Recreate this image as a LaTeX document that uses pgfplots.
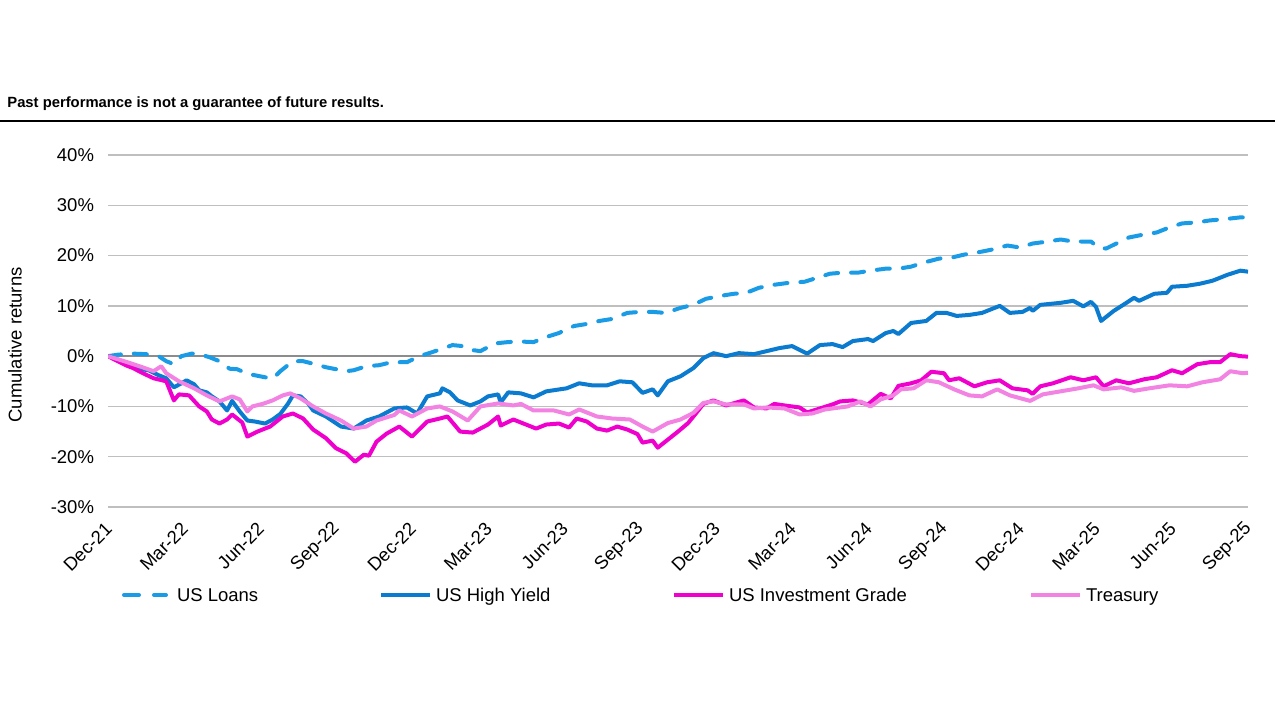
\documentclass[border=0pt]{standalone}
\usepackage{fontspec}
\setmainfont{Liberation Sans}
\usepackage{pgfplots}
\pgfplotsset{compat=1.18}
\usepackage{pgfplotstable}

\definecolor{loans}{HTML}{1A9BE6}
\definecolor{hy}{HTML}{0B7BCF}
\definecolor{ig}{HTML}{F000CC}
\definecolor{tsy}{HTML}{F383E2}

\pgfplotsset{
  solidkey/.style={legend image code/.code={\draw[##1] (0bp,0bp) -- (24.5bp,0bp);}},
  dashkey/.style={legend image code/.code={\draw[##1, dash pattern=on 7.5bp off 7.5bp] (1bp,0bp) -- (22bp,0bp); \path (24.5bp,0bp);}},
}

% cumulative returns (%), x = months since Dec-21
\pgfplotstableread{
m r
0 0
0.4 0.3
1.0 0.5
1.5 0.4
2.0 0.0
2.3 -1.0
2.6 -1.6
2.9 0.0
3.3 0.5
3.6 0.4
4.0 -0.2
4.4 -1.0
4.8 -2.5
5.1 -2.6
5.5 -3.5
6.0 -4.0
6.5 -4.5
6.8 -3.0
7.3 -1.0
7.7 -1.0
8.1 -1.5
8.6 -2.2
9.0 -2.6
9.4 -3.0
9.7 -2.8
10.2 -2.0
10.7 -1.8
11.2 -1.2
11.8 -1.2
12.3 0.0
12.8 0.8
13.2 1.5
13.6 2.2
14.0 2.0
14.4 1.2
14.7 1.0
15.0 1.8
15.4 2.6
15.8 2.8
16.3 2.9
16.8 2.8
17.3 3.8
17.8 4.6
18.4 6.0
18.9 6.4
19.4 7.0
19.9 7.4
20.5 8.6
21.0 8.8
21.5 8.8
22.0 8.6
22.6 9.6
23.1 10.2
23.6 11.4
24.2 12.0
24.7 12.4
25.2 12.6
25.7 13.6
26.3 14.2
26.9 14.6
27.5 14.8
28.0 15.6
28.5 16.4
29.0 16.6
29.6 16.6
30.1 17.0
30.7 17.4
31.2 17.4
31.7 17.8
32.2 18.6
32.8 19.4
33.3 19.6
33.8 20.2
34.3 20.6
34.9 21.2
35.5 22.0
36.0 21.6
36.5 22.4
37.1 22.8
37.6 23.2
38.1 22.8
38.8 22.8
39.1 21.6
39.4 21.4
39.8 22.4
40.3 23.6
40.9 24.2
41.4 24.6
41.9 25.6
42.4 26.4
43.0 26.6
43.5 27.0
44.0 27.2
44.7 27.6
45.0 27.6
}\loans

\pgfplotstableread{
m r
0 0
0.3 -0.5
0.7 -1.5
1.0 -1.8
1.3 -2.6
1.6 -2.8
2.0 -3.8
2.3 -4.4
2.6 -6.2
2.9 -5.4
3.1 -4.8
3.4 -5.6
3.6 -6.8
3.9 -7.2
4.1 -8.0
4.4 -9.0
4.7 -10.8
4.9 -8.9
5.2 -11.0
5.5 -12.8
5.8 -13.0
6.2 -13.4
6.5 -12.6
6.8 -11.5
7.1 -9.5
7.3 -7.8
7.6 -8.0
7.9 -9.4
8.1 -10.8
8.6 -12.0
9.2 -14.0
9.7 -14.4
10.2 -12.8
10.7 -12.0
11.0 -11.2
11.3 -10.4
11.8 -10.2
12.2 -11.4
12.6 -8.0
13.1 -7.4
13.2 -6.4
13.5 -7.2
13.8 -8.8
14.3 -9.8
14.7 -9.0
15.0 -8.0
15.4 -7.6
15.5 -9.2
15.8 -7.2
16.3 -7.4
16.8 -8.2
17.3 -7.0
18.1 -6.4
18.6 -5.4
19.1 -5.8
19.7 -5.8
20.2 -5.0
20.7 -5.2
21.1 -7.3
21.5 -6.6
21.7 -7.8
22.1 -5.0
22.6 -4.0
23.1 -2.4
23.5 -0.4
23.9 0.6
24.4 0.0
24.9 0.6
25.5 0.4
26.0 1.0
26.5 1.6
27.0 2.0
27.6 0.5
28.1 2.2
28.6 2.4
29.0 1.8
29.4 3.0
30.0 3.4
30.2 3.0
30.7 4.6
31.0 5.0
31.2 4.4
31.7 6.6
32.3 7.0
32.7 8.6
33.1 8.6
33.5 8.0
34.0 8.2
34.5 8.6
35.2 10.0
35.6 8.6
36.1 8.8
36.4 9.6
36.5 9.0
36.8 10.2
37.6 10.6
38.1 11.0
38.5 9.9
38.8 10.8
39.0 9.8
39.2 7.0
39.7 9.0
40.2 10.6
40.5 11.6
40.7 11.0
41.3 12.4
41.8 12.6
42.0 13.8
42.6 14.0
43.1 14.4
43.6 15.0
44.2 16.2
44.7 17.0
45.0 16.8
}\highyield

\pgfplotstableread{
m r
0 0
0.3 -0.8
0.7 -1.8
1.0 -2.4
1.3 -3.2
1.8 -4.4
2.3 -5.0
2.6 -8.8
2.8 -7.6
3.2 -7.8
3.6 -10.0
3.9 -11.0
4.1 -12.6
4.4 -13.4
4.7 -12.6
4.9 -11.6
5.3 -13.2
5.5 -16.0
5.9 -15.0
6.4 -14.0
6.9 -12.0
7.3 -11.4
7.7 -12.4
8.1 -14.6
8.6 -16.3
9.0 -18.3
9.4 -19.3
9.75 -21.0
10.1 -19.6
10.3 -19.8
10.6 -17.0
11.0 -15.4
11.5 -14.0
12.0 -16.0
12.6 -13.0
13.1 -12.4
13.4 -12.0
13.9 -15.0
14.4 -15.2
15.0 -13.6
15.4 -12.0
15.5 -13.8
16.0 -12.6
16.4 -13.4
16.9 -14.4
17.3 -13.6
17.8 -13.4
18.2 -14.2
18.5 -12.4
18.9 -13.0
19.3 -14.4
19.7 -14.8
20.1 -14.0
20.5 -14.6
20.9 -15.5
21.1 -17.2
21.5 -16.8
21.7 -18.2
22.1 -16.6
22.5 -15.0
22.9 -13.3
23.3 -10.8
23.5 -9.5
23.9 -8.8
24.4 -9.8
25.1 -8.8
25.5 -10.2
26.0 -10.4
26.3 -9.5
26.7 -9.8
27.3 -10.2
27.6 -11.2
28.1 -10.4
28.6 -9.6
28.9 -9.0
29.4 -8.8
30.0 -9.6
30.5 -7.5
30.9 -8.4
31.2 -5.9
31.7 -5.4
32.1 -4.8
32.5 -3.1
33.0 -3.4
33.2 -4.8
33.6 -4.4
34.2 -6.0
34.7 -5.2
35.2 -4.8
35.7 -6.4
36.3 -6.8
36.5 -7.5
36.8 -6.0
37.3 -5.4
38.0 -4.2
38.5 -4.8
39.0 -4.2
39.3 -6.0
39.8 -4.8
40.3 -5.4
40.9 -4.6
41.4 -4.2
42.0 -2.8
42.4 -3.4
43.0 -1.6
43.5 -1.2
43.9 -1.2
44.3 0.4
44.7 0.0
45.0 -0.1
}\invgrade

\pgfplotstableread{
m r
0 0
0.7 -1.1
1.3 -2.1
1.8 -3.0
2.1 -2.0
2.3 -3.4
2.8 -5.0
3.4 -6.4
3.9 -7.8
4.4 -9.0
4.9 -8.0
5.2 -8.6
5.5 -11.0
5.7 -10.0
6.1 -9.5
6.5 -8.8
6.9 -7.8
7.2 -7.4
7.6 -8.4
8.1 -10.0
8.6 -11.4
9.2 -12.8
9.7 -14.4
10.2 -14.0
10.6 -12.8
11.3 -11.7
11.5 -10.8
12.0 -12.0
12.6 -10.4
13.1 -10.0
13.6 -11.0
14.2 -12.8
14.7 -10.0
15.4 -9.4
16.0 -9.8
16.3 -9.5
16.8 -10.8
17.6 -10.8
18.2 -11.6
18.6 -10.6
19.3 -12.0
19.9 -12.4
20.6 -12.6
21.1 -14.0
21.5 -15.0
22.1 -13.3
22.6 -12.6
23.1 -11.3
23.5 -9.3
23.9 -9.0
24.4 -9.6
25.1 -9.6
25.5 -10.4
26.0 -10.2
26.7 -10.4
27.3 -11.6
27.8 -11.4
28.3 -10.6
29.2 -10.0
29.7 -9.0
30.1 -10.0
30.5 -8.6
31.0 -7.8
31.3 -6.6
31.8 -6.4
32.3 -4.8
32.8 -5.2
33.4 -6.6
34.0 -7.8
34.5 -8.0
35.1 -6.6
35.6 -7.8
36.4 -8.9
36.9 -7.6
37.6 -7.0
38.3 -6.4
38.9 -5.8
39.3 -6.6
40.0 -6.2
40.5 -6.9
41.1 -6.4
41.9 -5.8
42.6 -6.0
43.2 -5.2
43.9 -4.6
44.3 -3.0
44.8 -3.4
45.0 -3.3
}\treasury

\begin{document}
\begin{tikzpicture}
\useasboundingbox (0,0) rectangle (640bp,-360bp);

\node[anchor=base west, inner sep=0pt, font=\bfseries\fontsize{7.4bp}{9bp}\selectfont]
  at (3.5bp,-53.5bp) {Past performance is not a guarantee of future results.};
\draw[line width=0.7bp] (0,-60.5bp) -- (637.5bp,-60.5bp);

\begin{axis}[
  at={(54bp,-253.5bp)}, anchor=south west,
  scale only axis, width=570bp, height=176bp,
  xmin=0, xmax=45, ymin=-30, ymax=40,
  font=\fontsize{9.25bp}{11bp}\selectfont,
  axis line style={draw=none},
  major tick style={draw=none},
  xtick={0,3,...,45},
  xticklabels={Dec-21,Mar-22,Jun-22,Sep-22,Dec-22,Mar-23,Jun-23,Sep-23,Dec-23,Mar-24,Jun-24,Sep-24,Dec-24,Mar-25,Jun-25,Sep-25},
  xticklabel style={rotate=45, anchor=east, xshift=2bp, yshift=-2bp},
  xticklabel shift=7bp,
  ytick={-30,-20,...,40},
  yticklabels={-30\%,-20\%,-10\%,0\%,10\%,20\%,30\%,40\%},
  yticklabel style={xshift=-3.5bp},
  ymajorgrids,
  major grid style={draw=black!25, line width=0.7bp},
  extra y ticks={0},
  extra y tick labels={},
  extra y tick style={major grid style={draw=black!45, line width=0.8bp}},
  ylabel={Cumulative returns},
  ylabel style={at={(axis description cs:0,0.5)}, anchor=center, xshift=-7bp, yshift=46.5bp},
  legend columns=4,
  legend cell align=left,
  legend style={draw=none, fill=none, inner sep=0pt, outer sep=0pt,
    at={(axis description cs:0,0)}, anchor=west, xshift=7bp, yshift=-44bp,
    nodes={inner sep=0pt}, /tikz/column sep=2bp},
  solidkey,
  every axis plot/.append style={line width=2bp, line join=round},
]
\addplot[loans, dash pattern=on 6.5bp off 6.5bp, line cap=round, dashkey]
  table[x=m, y=r] {\loans};
\addlegendentry{\makebox[99bp][l]{\strut US Loans}}
\addplot[hy] table[x=m, y=r] {\highyield};
\addlegendentry{\makebox[116bp][l]{\strut US High Yield}}
\addplot[ig] table[x=m, y=r] {\invgrade};
\addlegendentry{\makebox[148bp][l]{\strut US Investment Grade}}
\addplot[tsy] table[x=m, y=r] {\treasury};
\addlegendentry{\strut Treasury}
\end{axis}
\end{tikzpicture}
\end{document}
